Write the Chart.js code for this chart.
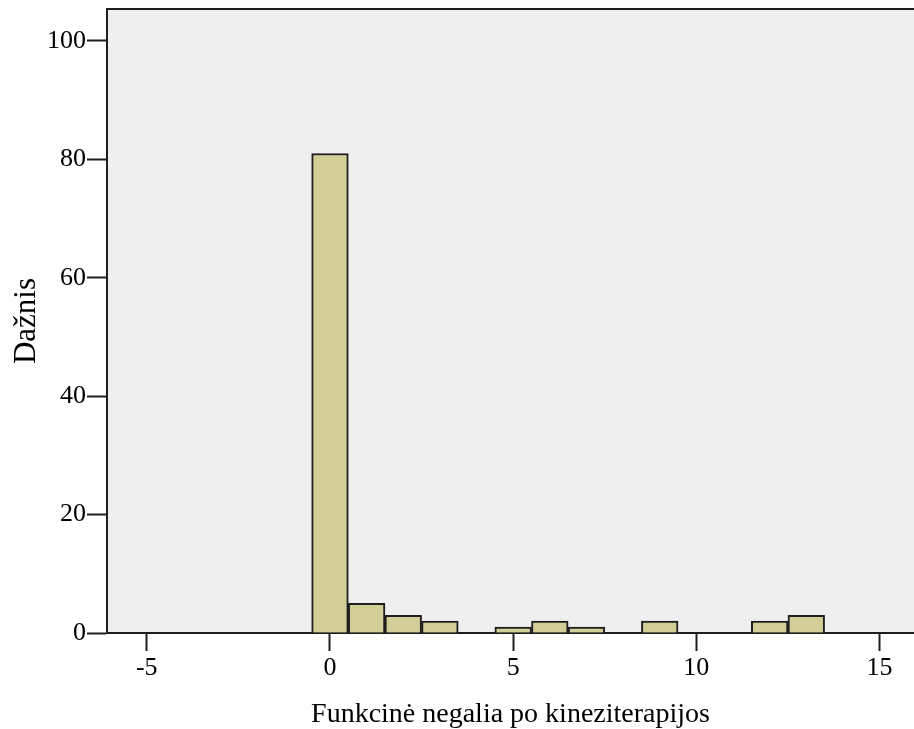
<!DOCTYPE html>
<html>
<head>
<meta charset="utf-8">
<script src="https://cdn.jsdelivr.net/npm/chart.js@4/dist/chart.umd.min.js"></script>
<style>
  html, body { margin: 0; padding: 0; background: #ffffff; }
  #wrap { width: 914px; height: 729px; }
</style>
</head>
<body>
<div id="wrap"><canvas id="hist"></canvas></div>
<script>
// Histogram bins (centre value) and their frequencies
const binCentres = [0, 1, 2, 3, 5, 6, 7, 9, 12, 13];
const frequencies = [81, 5, 3, 2, 1, 2, 1, 2, 2, 3];
const xTickValues = [-5, 0, 5, 10, 15];
const yTickValues = [0, 20, 40, 60, 80, 100];
const xTitle = 'Funkcinė negalia po kineziterapijos';
const yTitle = 'Dažnis';

const serif = 'Liberation Serif, Times New Roman, serif';

const plotFrame = {
  id: 'plotFrame',
  beforeDraw(chart) {
    const { ctx, chartArea: a } = chart;
    ctx.save();
    ctx.fillStyle = '#efefef';
    ctx.fillRect(a.left, a.top, a.right - a.left, a.bottom - a.top);
    ctx.restore();
  },
  afterDraw(chart) {
    const { ctx, chartArea: a } = chart;
    ctx.save();
    ctx.strokeStyle = '#1e1e1e';
    ctx.lineWidth = 2;
    ctx.beginPath();
    ctx.moveTo(a.left, a.top);
    ctx.lineTo(a.right, a.top);
    ctx.stroke();
    ctx.restore();
  }
};

new Chart(document.getElementById('hist'), {
  type: 'bar',
  data: {
    datasets: [{
      data: binCentres.map((x, i) => ({ x: x, y: frequencies[i] })),
      backgroundColor: '#d3ce97',
      borderColor: '#1e1e1e',
      borderWidth: 2,
      borderSkipped: 'bottom',
      barPercentage: 1,
      categoryPercentage: 1
    }]
  },
  options: {
    responsive: true,
    maintainAspectRatio: false,
    animation: false,
    layout: { padding: { top: 9, right: 0, bottom: 0, left: 0 } },
    plugins: { legend: { display: false }, tooltip: { enabled: false } },
    scales: {
      x: {
        type: 'linear',
        offset: false,
        min: -6.086,
        max: 15.94,
        afterBuildTicks(scale) { scale.ticks = xTickValues.map(v => ({ value: v })); },
        afterFit(scale) {
          scale.height = 96;
          scale.paddingLeft = 0;
          scale.paddingRight = 0;
        },
        grid: { offset: false, drawOnChartArea: false, tickLength: 18, tickWidth: 2, tickColor: '#1e1e1e' },
        border: { color: '#1e1e1e', width: 2 },
        ticks: {
          color: '#000000',
          font: { family: serif, size: 26 },
          padding: 2,
          maxRotation: 0,
          autoSkip: false,
          callback: v => String(v)
        },
        title: {
          display: true,
          text: xTitle,
          color: '#000000',
          font: { family: serif, size: 28 },
          padding: { top: 0, bottom: -2 }
        }
      },
      y: {
        min: 0,
        max: 105.4,
        afterBuildTicks(scale) { scale.ticks = yTickValues.map(v => ({ value: v })); },
        afterFit(scale) {
          scale.width = 107;
          scale.paddingTop = 0;
          scale.paddingBottom = 0;
        },
        grid: { drawOnChartArea: false, tickLength: 20, tickWidth: 2, tickColor: '#1e1e1e' },
        border: { color: '#1e1e1e', width: 2 },
        ticks: {
          color: '#000000',
          font: { family: serif, size: 26 },
          padding: 1,
          callback: v => String(v)
        },
        title: {
          display: true,
          text: yTitle,
          color: '#000000',
          font: { family: serif, size: 31 },
          padding: { top: 8, bottom: 0 }
        }
      }
    }
  },
  plugins: [plotFrame]
});
</script>
</body>
</html>
